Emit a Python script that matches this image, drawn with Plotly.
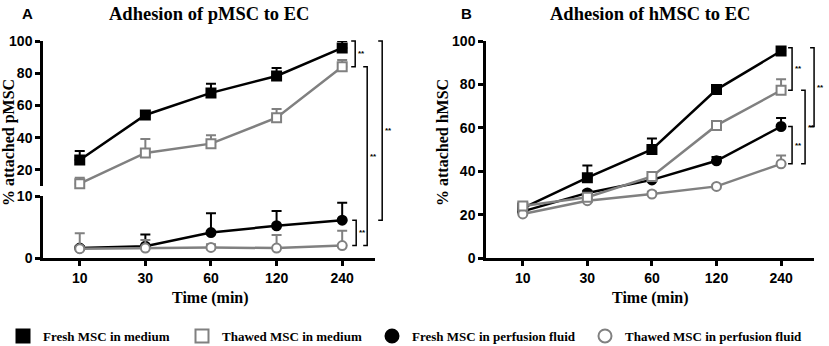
import plotly.graph_objects as go

# ---------------- data ----------------
times = ["10", "30", "60", "120", "240"]

# Panel A (pMSC)
pA_fresh_med = [26.1, 54.1, 67.8, 78.3, 95.7]
pA_fresh_med_err = [5.6, 1.0, 5.7, 5.0, 4.3]
pA_thaw_med = [11.4, 30.5, 36.3, 52.4, 84.0]
pA_thaw_med_err = [3.7, 8.7, 5.2, 5.4, 4.2]
pA_fresh_perf = [1.6, 1.9, 4.1, 5.2, 6.1]
pA_fresh_perf_err = [0.3, 1.9, 3.1, 2.4, 2.8]
pA_thaw_perf = [1.5, 1.6, 1.7, 1.6, 2.0]
pA_thaw_perf_err = [2.5, 1.3, 0.5, 2.1, 2.4]

# Panel B (hMSC)
pB_fresh_med = [23.0, 37.0, 50.0, 77.6, 95.4]
pB_fresh_med_err = [1.0, 5.6, 5.1, 1.0, 1.5]
pB_thaw_med = [24.0, 28.0, 37.6, 61.1, 77.3]
pB_thaw_med_err = [1.0, 1.0, 1.0, 1.0, 5.1]
pB_fresh_perf = [21.5, 30.0, 36.0, 44.8, 60.6]
pB_fresh_perf_err = [1.0, 1.0, 1.0, 1.7, 3.9]
pB_thaw_perf = [20.3, 26.4, 29.5, 33.0, 43.4]
pB_thaw_perf_err = [0.8, 1.0, 1.0, 0.8, 3.8]

series_names = ["Fresh MSC in medium", "Thawed MSC in medium",
                "Fresh MSC in perfusion fluid", "Thawed MSC in perfusion fluid"]

# ---------------- layout geometry ----------------
W, H = 829, 346
ML, MR, MT, MB = 43, 15, 41, 88
PW, PH = W - ML - MR, H - MT - MB


def px_x(px):
    return (px - ML) / PW


def px_y(py):
    return (H - MB - py) / PH


xA_dom = [px_x(43), px_x(375)]
xB_dom = [px_x(486), px_x(814)]
yA_low_dom = [px_y(258), px_y(196)]
yA_up_dom = [px_y(186), px_y(41)]
yB_dom = [0.0, 1.0]
x_rangeA = [-0.56, 4.5]
x_rangeB = [-0.57, 4.51]
yA_low_rng = [0, 10]
yA_up_rng = [10, 100]
yB_rng = [0, 100]

BLACK = "#000000"
GRAY = "#808080"


def v2p(v, dom, rng):
    return dom[0] + (v - rng[0]) / (rng[1] - rng[0]) * (dom[1] - dom[0])


fig = go.Figure()


def add_series(y, err, color, symbol, filled, xa, ya):
    fig.add_trace(go.Scatter(
        x=times, y=y, xaxis=xa, yaxis=ya, mode="lines+markers",
        line=dict(color=color, width=2.5),
        marker=dict(symbol=symbol, size=9,
                    color=color if filled else "white",
                    line=dict(color=color, width=2)),
        error_y=dict(type="data", symmetric=False, array=err,
                     arrayminus=[0] * len(err), color=color,
                     thickness=2, width=5),
        cliponaxis=False, showlegend=False, hoverinfo="skip"))


# Panel A
add_series(pA_fresh_perf, pA_fresh_perf_err, BLACK, "circle", True, "x", "y")
add_series(pA_thaw_perf, pA_thaw_perf_err, GRAY, "circle", False, "x", "y")
add_series(pA_fresh_med, pA_fresh_med_err, BLACK, "square", True, "x", "y3")
add_series(pA_thaw_med, pA_thaw_med_err, GRAY, "square", False, "x", "y3")
# Panel B
add_series(pB_fresh_perf, pB_fresh_perf_err, BLACK, "circle", True, "x2", "y2")
add_series(pB_fresh_med, pB_fresh_med_err, BLACK, "square", True, "x2", "y2")
add_series(pB_thaw_perf, pB_thaw_perf_err, GRAY, "circle", False, "x2", "y2")
add_series(pB_thaw_med, pB_thaw_med_err, GRAY, "square", False, "x2", "y2")

# legend entries (marker only)
leg_styles = [(BLACK, "square", True), (GRAY, "square", False),
              (BLACK, "circle", True), (GRAY, "circle", False)]
leg_ids = ["legend", "legend2", "legend3", "legend4"]
for name, (c, s, f), lid in zip(series_names, leg_styles, leg_ids):
    fig.add_trace(go.Scatter(
        x=[None], y=[None], mode="markers", name=name, legend=lid,
        marker=dict(symbol=s, size=13, color=c if f else "white",
                    line=dict(color=c, width=2)),
        showlegend=True))

axis_common = dict(showline=True, linecolor="black", linewidth=2.5,
                   ticks="outside", ticklen=5, tickwidth=2.5, tickcolor="black",
                   showgrid=False, zeroline=False,
                   tickfont=dict(family="Liberation Sans, Arial", size=14,
                                 color="black", weight="bold"))

fig.update_layout(
    width=W, height=H, margin=dict(l=ML, r=MR, t=MT, b=MB, autoexpand=False),
    paper_bgcolor="white", plot_bgcolor="white",
    xaxis=dict(domain=xA_dom, anchor="y", type="category", range=x_rangeA, **axis_common),
    yaxis=dict(domain=yA_low_dom, anchor="x", range=yA_low_rng, tickvals=[0, 10], **axis_common),
    yaxis3=dict(domain=yA_up_dom, anchor="x", range=yA_up_rng,
                tickvals=[20, 40, 60, 80, 100], **axis_common),
    xaxis2=dict(domain=xB_dom, anchor="y2", type="category", range=x_rangeB, **axis_common),
    yaxis2=dict(domain=yB_dom, anchor="x2", range=yB_rng,
                tickvals=[0, 20, 40, 60, 80, 100], **axis_common),
)

# legends
leg_font = dict(family="Liberation Serif, Times New Roman", size=13, color="black", weight="bold")
leg_sym_px = [23, 202, 392, 605]
for lid, sx in zip(leg_ids, leg_sym_px):
    fig.update_layout({lid: dict(orientation="h", x=px_x(sx - 20), xanchor="left",
                                 y=px_y(336), yanchor="middle", font=leg_font,
                                 bgcolor="rgba(0,0,0,0)", borderwidth=0)})

ann = []
serif_b = dict(family="Liberation Serif, Times New Roman", color="black", weight="bold")
sans_b = dict(family="Liberation Sans, Arial", color="black", weight="bold")
# panel titles
ann.append(dict(text="Adhesion of pMSC to EC", x=sum(xA_dom) / 2, y=px_y(14),
                font=dict(size=18.5, **serif_b)))
ann.append(dict(text="Adhesion of hMSC to EC", x=sum(xB_dom) / 2, y=px_y(14),
                font=dict(size=18.5, **serif_b)))
ann.append(dict(text="A", x=px_x(27), y=px_y(14), font=dict(size=15, **sans_b)))
ann.append(dict(text="B", x=px_x(466), y=px_y(14), font=dict(size=15, **sans_b)))
# axis titles
ann.append(dict(text="% attached pMSC", x=px_x(9), y=px_y(143), textangle=-90,
                font=dict(size=16, **serif_b)))
ann.append(dict(text="% attached hMSC", x=px_x(442), y=px_y(143), textangle=-90,
                font=dict(size=16, **serif_b)))
ann.append(dict(text="Time (min)", x=px_x(210), y=px_y(298), font=dict(size=16, **serif_b)))
ann.append(dict(text="Time (min)", x=px_x(650), y=px_y(298), font=dict(size=16, **serif_b)))
for a in ann:
    a.update(xref="paper", yref="paper", showarrow=False, xanchor="center", yanchor="middle")

# significance brackets
last = len(times) - 1


def cat_px(i, xdom, xrng):
    p = v2p(i, xdom, xrng)
    return ML + p * PW


shapes = []
brackets = [
    # (x data domain, x range, hi value, hi dom, hi rng, lo value, lo dom, lo rng, x offset px)
    (xA_dom, x_rangeA, pA_fresh_med[last] + pA_fresh_med_err[last], yA_up_dom, yA_up_rng,
     pA_thaw_med[last], yA_up_dom, yA_up_rng, 13),
    (xA_dom, x_rangeA, pA_fresh_perf[last], yA_low_dom, yA_low_rng,
     pA_thaw_perf[last], yA_low_dom, yA_low_rng, 14),
    (xA_dom, x_rangeA, pA_thaw_med[last], yA_up_dom, yA_up_rng,
     pA_thaw_perf[last], yA_low_dom, yA_low_rng, 25),
    (xA_dom, x_rangeA, pA_fresh_med[last] + pA_fresh_med_err[last], yA_up_dom, yA_up_rng,
     pA_fresh_perf[last], yA_low_dom, yA_low_rng, 40),
    (xB_dom, x_rangeB, pB_fresh_med[last] + pB_fresh_med_err[last], yB_dom, yB_rng,
     pB_thaw_med[last], yB_dom, yB_rng, 11),
    (xB_dom, x_rangeB, pB_fresh_perf[last], yB_dom, yB_rng,
     pB_thaw_perf[last], yB_dom, yB_rng, 11),
    (xB_dom, x_rangeB, pB_thaw_med[last], yB_dom, yB_rng,
     pB_thaw_perf[last], yB_dom, yB_rng, 24),
    (xB_dom, x_rangeB, pB_fresh_med[last] + pB_fresh_med_err[last], yB_dom, yB_rng,
     pB_fresh_perf[last], yB_dom, yB_rng, 33),
]
for xdom, xrng, hv, hdom, hrng, lv, ldom, lrng, off in brackets:
    xv = cat_px(last, xdom, xrng) + off
    yt = v2p(hv, hdom, hrng)
    yb = v2p(lv, ldom, lrng)
    xc = px_x(xv - 4)
    xl = px_x(xv)
    shapes.append(dict(type="path", xref="paper", yref="paper",
                       path=f"M {xc} {yt} L {xl} {yt} L {xl} {yb} L {xc} {yb}",
                       line=dict(color="black", width=1.5)))
    ann.append(dict(text="**", x=px_x(xv + 6), y=(yt + yb) / 2, xref="paper", yref="paper",
                    showarrow=False, xanchor="center", yanchor="middle",
                    font=dict(size=8, **sans_b)))

fig.update_layout(annotations=ann, shapes=shapes)
fig.write_html("out.html", config={"displayModeBar": False},
               post_script="document.body.style.margin='0px';document.body.style.overflow='hidden';")
